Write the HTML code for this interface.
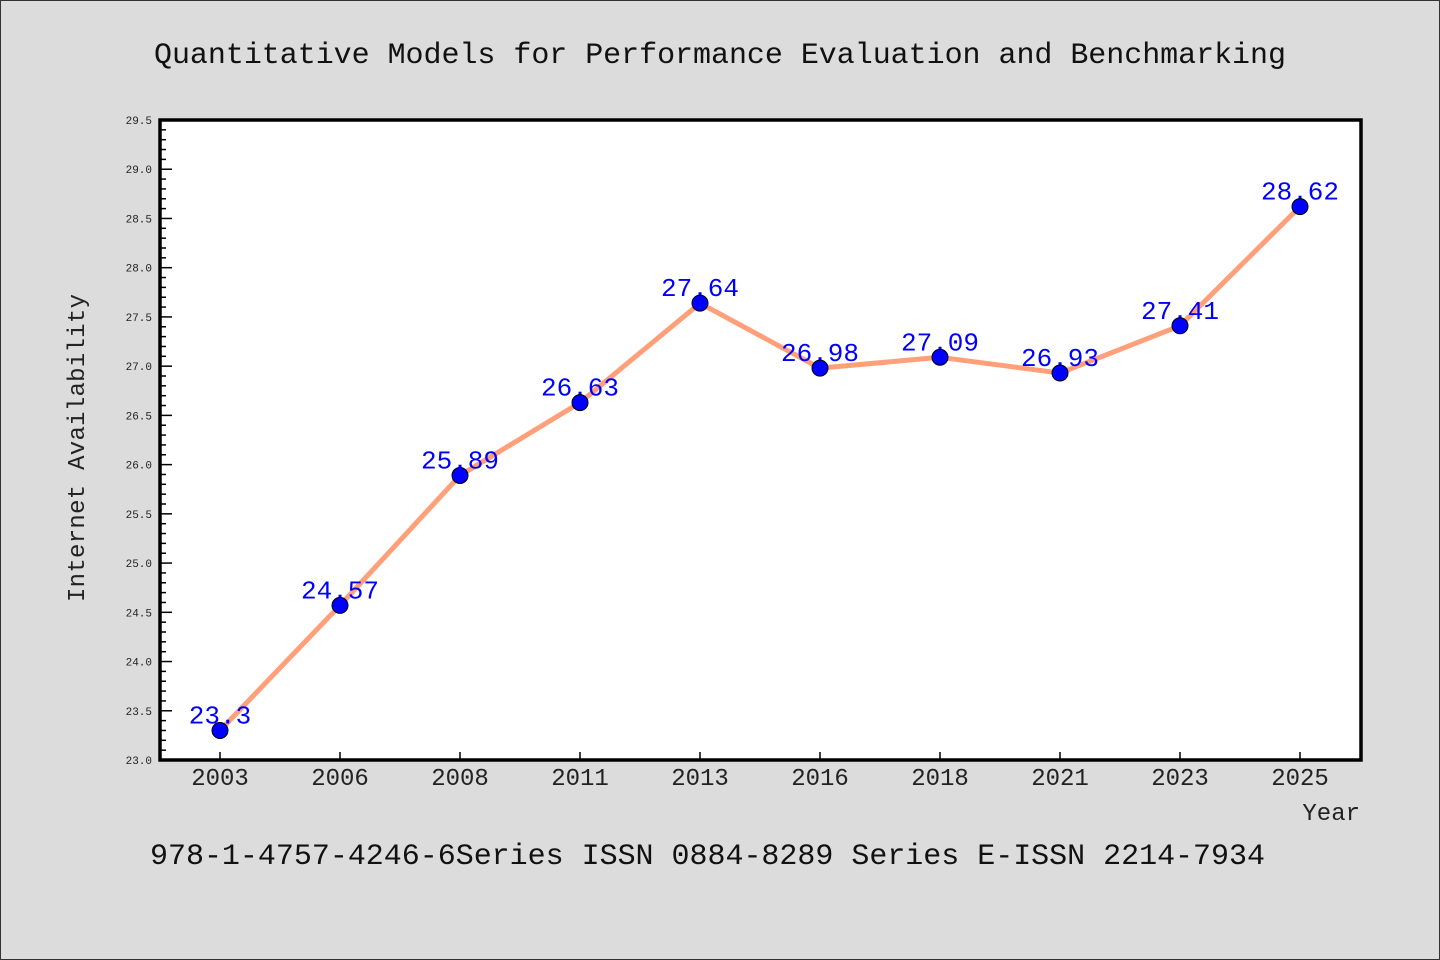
<!DOCTYPE html>
<html><head><meta charset="utf-8"><style>
body{margin:0;background:#dcdcdc;}
svg{display:block;font-family:"WenQuanYi Zen Hei","Liberation Mono",monospace;}
</style></head><body>
<svg width="1440" height="960" xmlns="http://www.w3.org/2000/svg">
<rect x="0.5" y="0.5" width="1439" height="959" fill="#dcdcdc" stroke="#333"/>
<text x="720" y="63" text-anchor="middle" font-size="30" textLength="1132" fill="#111">Quantitative Models for Performance Evaluation and Benchmarking</text>
<rect x="160" y="120" width="1201" height="640" fill="#fff"/>
<g id="axes"></g>
<g id="marks"></g>
<path d="M160,120 V760 H1361 V120 Z" fill="none" stroke="#000" stroke-width="3.5"/>
<text transform="translate(84,448) rotate(-90)" text-anchor="middle" font-size="24" textLength="308" fill="#222">Internet Availability</text>
<text x="1360" y="820" text-anchor="end" font-size="24" fill="#222">Year</text>
<text x="150" y="864" font-size="30" textLength="1115" fill="#111">978-1-4757-4246-6Series ISSN 0884-8289 Series E-ISSN 2214-7934</text>
</svg>
<script>
const categories=["2003","2006","2008","2011","2013","2016","2018","2021","2023","2025"];
const values=[23.3,24.57,25.89,26.63,27.64,26.98,27.09,26.93,27.41,28.62];
const labels=["23.3","24.57","25.89","26.63","27.64","26.98","27.09","26.93","27.41","28.62"];
const yTicks=["23.0","23.5","24.0","24.5","25.0","25.5","26.0","26.5","27.0","27.5","28.0","28.5","29.0","29.5"];
const NS="http://www.w3.org/2000/svg";
const L=160,R=1361,T=120,B=760,ymin=23,ymax=29.5;
const xs=i=>220+i*(1200/categories.length);
const ys=v=>B-(v-ymin)/(ymax-ymin)*(B-T);
function mk(tag,attrs,parent,txt){const e=document.createElementNS(NS,tag);for(const k in attrs)e.setAttribute(k,attrs[k]);if(txt!==undefined)e.textContent=txt;parent.appendChild(e);return e;}
const ax=document.getElementById('axes'),mg=document.getElementById('marks');
for(let v=Math.round(ymin*10);v<=Math.round(ymax*10);v++){
 const y=ys(v/10),major=v%5===0;
 const t=mk('line',{x1:L,x2:L+(major?12:6),y1:y,y2:y,stroke:'#000','stroke-width':1.5},ax);
 
 
}
yTicks.forEach(s=>{
 const t=mk('text',{x:152,y:ys(parseFloat(s))+4,'text-anchor':'end','font-size':11,fill:'#222'},ax,s);
 
 
});
categories.forEach((c,i)=>{
 const x=xs(i);
 const t=mk('line',{x1:x,x2:x,y1:B,y2:B-8,stroke:'#000','stroke-width':1.5},ax);
 
 
 const l=mk('text',{x:x,y:785,'text-anchor':'middle','font-size':24,fill:'#222'},ax,c);
 
 
});
const pts=values.map((v,i)=>xs(i)+','+ys(v)).join(' ');
const pl=mk('polyline',{points:pts,fill:'none',stroke:'#ffa07a','stroke-width':5,'stroke-linejoin':'round'},mg);


values.forEach((v,i)=>{
 const l=mk('text',{x:xs(i),y:ys(v)-7,'text-anchor':'middle','font-size':26,fill:'#0000ff'},mg,labels[i]);
 
 
});
values.forEach((v,i)=>{
 const c=mk('circle',{cx:xs(i),cy:ys(v),r:8,fill:'#0000ff',stroke:'#000','stroke-width':1},mg);
 
 
});
</script>
</body></html>
